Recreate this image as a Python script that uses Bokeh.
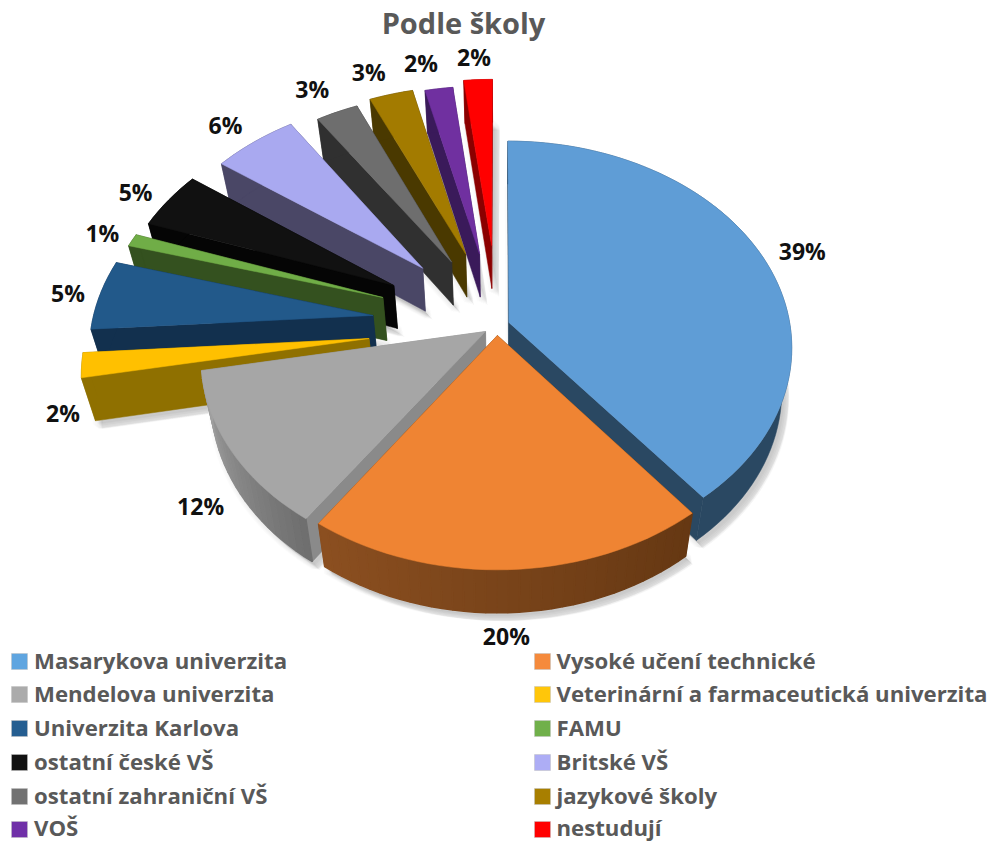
import numpy as np
from bokeh.plotting import figure
from bokeh.models import Range1d
from bokeh.embed import file_html
from bokeh.resources import INLINE
from bokeh.core.properties import value as V

# ---- data
title = "Podle školy"
categories = ["Masarykova univerzita", "Vysoké učení technické", "Mendelova univerzita",
              "Veterinární a farmaceutická univerzita", "Univerzita Karlova", "FAMU",
              "ostatní české VŠ", "Britské VŠ", "ostatní zahraniční VŠ", "jazykové školy",
              "VOŠ", "nestudují"]
shares = [39.3, 20.4, 12.4, 1.9, 5.45, 1.0, 4.6, 5.6, 2.8, 2.9, 1.85, 1.9]

# ---- style
top_col = ["#5f9dd6", "#ef8433", "#a6a6a6", "#ffc000", "#22598a", "#70ad47",
           "#111111", "#a9a9f0", "#6e6e6e", "#a37b00", "#7030a0", "#ff0000"]
leg_col = ["#5fa5e0", "#f58a3c", "#ababab", "#ffc60a", "#255e91", "#70b04a",
           "#111111", "#adadf5", "#727272", "#a87f00", "#7030a8", "#ff0000"]
side_col = ["#2a4862", "#673a13", "#8a8a8a", "#8f7000", "#12304e", "#34511f",
            "#050505", "#4a4766", "#303030", "#4a3900", "#3a1a5a", "#8b0000"]
rim_a = ["#2a4862", "#663813", "#6f6f6f", "#8f7000", "#12304e", "#34511f",
         "#050505", "#4a4766", "#303030", "#4a3900", "#3a1a5a", "#8b0000"]
rim_b = ["#2a4862", "#8b4f20", "#a0a0a0", "#8f7000", "#12304e", "#34511f",
         "#050505", "#4a4766", "#303030", "#4a3900", "#3a1a5a", "#8b0000"]
explode_x = [.035, -.006, -.048, -.459, -.451, -.42, -.383, -.281, -.175, -.124, -.0725, -.028]
explode_y = [.039, -.024, -.005, -.039, .074, .164, .225, .315, .347, .39, .39, .436]
label_r = [1.15, 1.246, 1.198, 1.074, 1.116, 1.12, 1.135, 1.155, 1.175, 1.162, 1.175, 1.144]
label_shift = [1, .7, -7.5, -11.7, -.5, -.4, -1.4, -1.2, -1.5, -2.5, -2.4, -.5]
draw_order = [11, 10, 9, 8, 7, 6, 5, 4, 3, 2, 0, 1]

CX, CY, A, B, P = 498.6, 330.0, 282.0, 205.0, 0.12
DEPTH, BOTTOM_SCALE = 43.0, 0.966
FONT = "Open Sans"
GREY = "#595959"
LABEL_NUDGE = -1.5
W, H = 993, 842


def project(X, Y):
    d = 1 + P * np.asarray(Y, float)
    return CX + A * np.asarray(X, float) / d, CY - B * np.asarray(Y, float) / d


def lower(x, y):
    return CX + BOTTOM_SCALE * (np.asarray(x) - CX), np.asarray(y) + DEPTH


def mix(c1, c2, t):
    a = [int(c1[i:i + 2], 16) for i in (1, 3, 5)]
    b = [int(c2[i:i + 2], 16) for i in (1, 3, 5)]
    return "#%02x%02x%02x" % tuple(round(p + (q - p) * t) for p, q in zip(a, b))


p = figure(width=W, height=H, x_range=Range1d(0, W), y_range=Range1d(H, 0),
           output_backend="svg", toolbar_location=None, min_border=0)
p.axis.visible = False
p.grid.visible = False
p.outline_line_color = None
p.background_fill_color = "white"
p.border_fill_color = "white"

edges = np.concatenate([[0], np.cumsum(shares)]) / sum(shares) * 2 * np.pi
slices = []
for i in range(len(shares)):
    th = np.linspace(edges[i], edges[i + 1], max(3, int((edges[i + 1] - edges[i]) / np.radians(2)) + 1))
    ax, ay = project(explode_x[i], explode_y[i])
    rx, ry = project(explode_x[i] + np.sin(th), explode_y[i] + np.cos(th))
    slices.append((th, float(ax), float(ay), rx, ry))

# soft shadows, drawn on the background first
for (th, ax, ay, rx, ry) in slices:
    lx, ly = lower(np.r_[ax, rx], np.r_[ay, ry])
    for k, lw in zip((2, 3, 4, 5, 6, 7), (10, 8, 6, 4, 2, 1)):
        p.patch(lx + k, ly + k + 1, fill_color="#000000", fill_alpha=0.03,
                line_color="#000000", line_alpha=0.015, line_width=lw)

# slices back to front
for i in draw_order:
    th, ax, ay, rx, ry = slices[i]
    bax, bay = lower(ax, ay)
    brx, bry = lower(rx, ry)
    for j in (-1, 0):
        p.patch([ax, rx[j], brx[j], float(bax)], [ay, ry[j], bry[j], float(bay)],
                fill_color=side_col[i], line_color=side_col[i], line_width=0.5)
    if rim_a[i] == rim_b[i]:
        p.patch(np.r_[rx, brx[::-1]], np.r_[ry, bry[::-1]], fill_color=rim_a[i], line_color=rim_a[i], line_width=0.5)
    else:
        xs = [[rx[j], rx[j + 1], brx[j + 1], brx[j]] for j in range(len(th) - 1)]
        ys = [[ry[j], ry[j + 1], bry[j + 1], bry[j]] for j in range(len(th) - 1)]
        cs = [mix(rim_a[i], rim_b[i], j / max(1, len(th) - 2)) for j in range(len(th) - 1)]
        p.patches(xs, ys, fill_color=cs, line_color=cs, line_width=1.5)
    p.patch(np.r_[ax, rx], np.r_[ay, ry], fill_color=top_col[i], line_color=top_col[i], line_width=0.5)

# data labels
for i, s in enumerate(shares):
    mid = (edges[i] + edges[i + 1]) / 2 + np.radians(label_shift[i])
    lx, ly = project(explode_x[i] + label_r[i] * np.sin(mid), explode_y[i] + label_r[i] * np.cos(mid))
    p.text([float(lx)], [float(ly) + LABEL_NUDGE], text=[f"{round(s)}%"], text_font=V(FONT), text_font_style="bold",
           text_font_size="23px", text_color="#111111", text_align="center", text_baseline="middle")

p.text([463], [22], text=[title], text_font=V(FONT), text_font_style="bold", text_font_size="29px",
       text_color=GREY, text_align="center", text_baseline="middle")

# legend
rows = (661, 694, 728, 762, 796, 829)
cols = ((19, 33.5), (542, 556))
for i, name in enumerate(categories):
    sx, tx = cols[i % 2]
    y = rows[i // 2]
    p.rect([sx], [y], width=16, height=16, fill_color=leg_col[i], line_color="#c0c0c0", line_width=0.5)
    p.text([tx], [min(y - 1, H - 15)], text=[name], text_font=V(FONT), text_font_style="bold", text_font_size="22.2px",
           text_color=GREY, text_align="left", text_baseline="middle")

open("out.html", "w").write(file_html(p, INLINE))
